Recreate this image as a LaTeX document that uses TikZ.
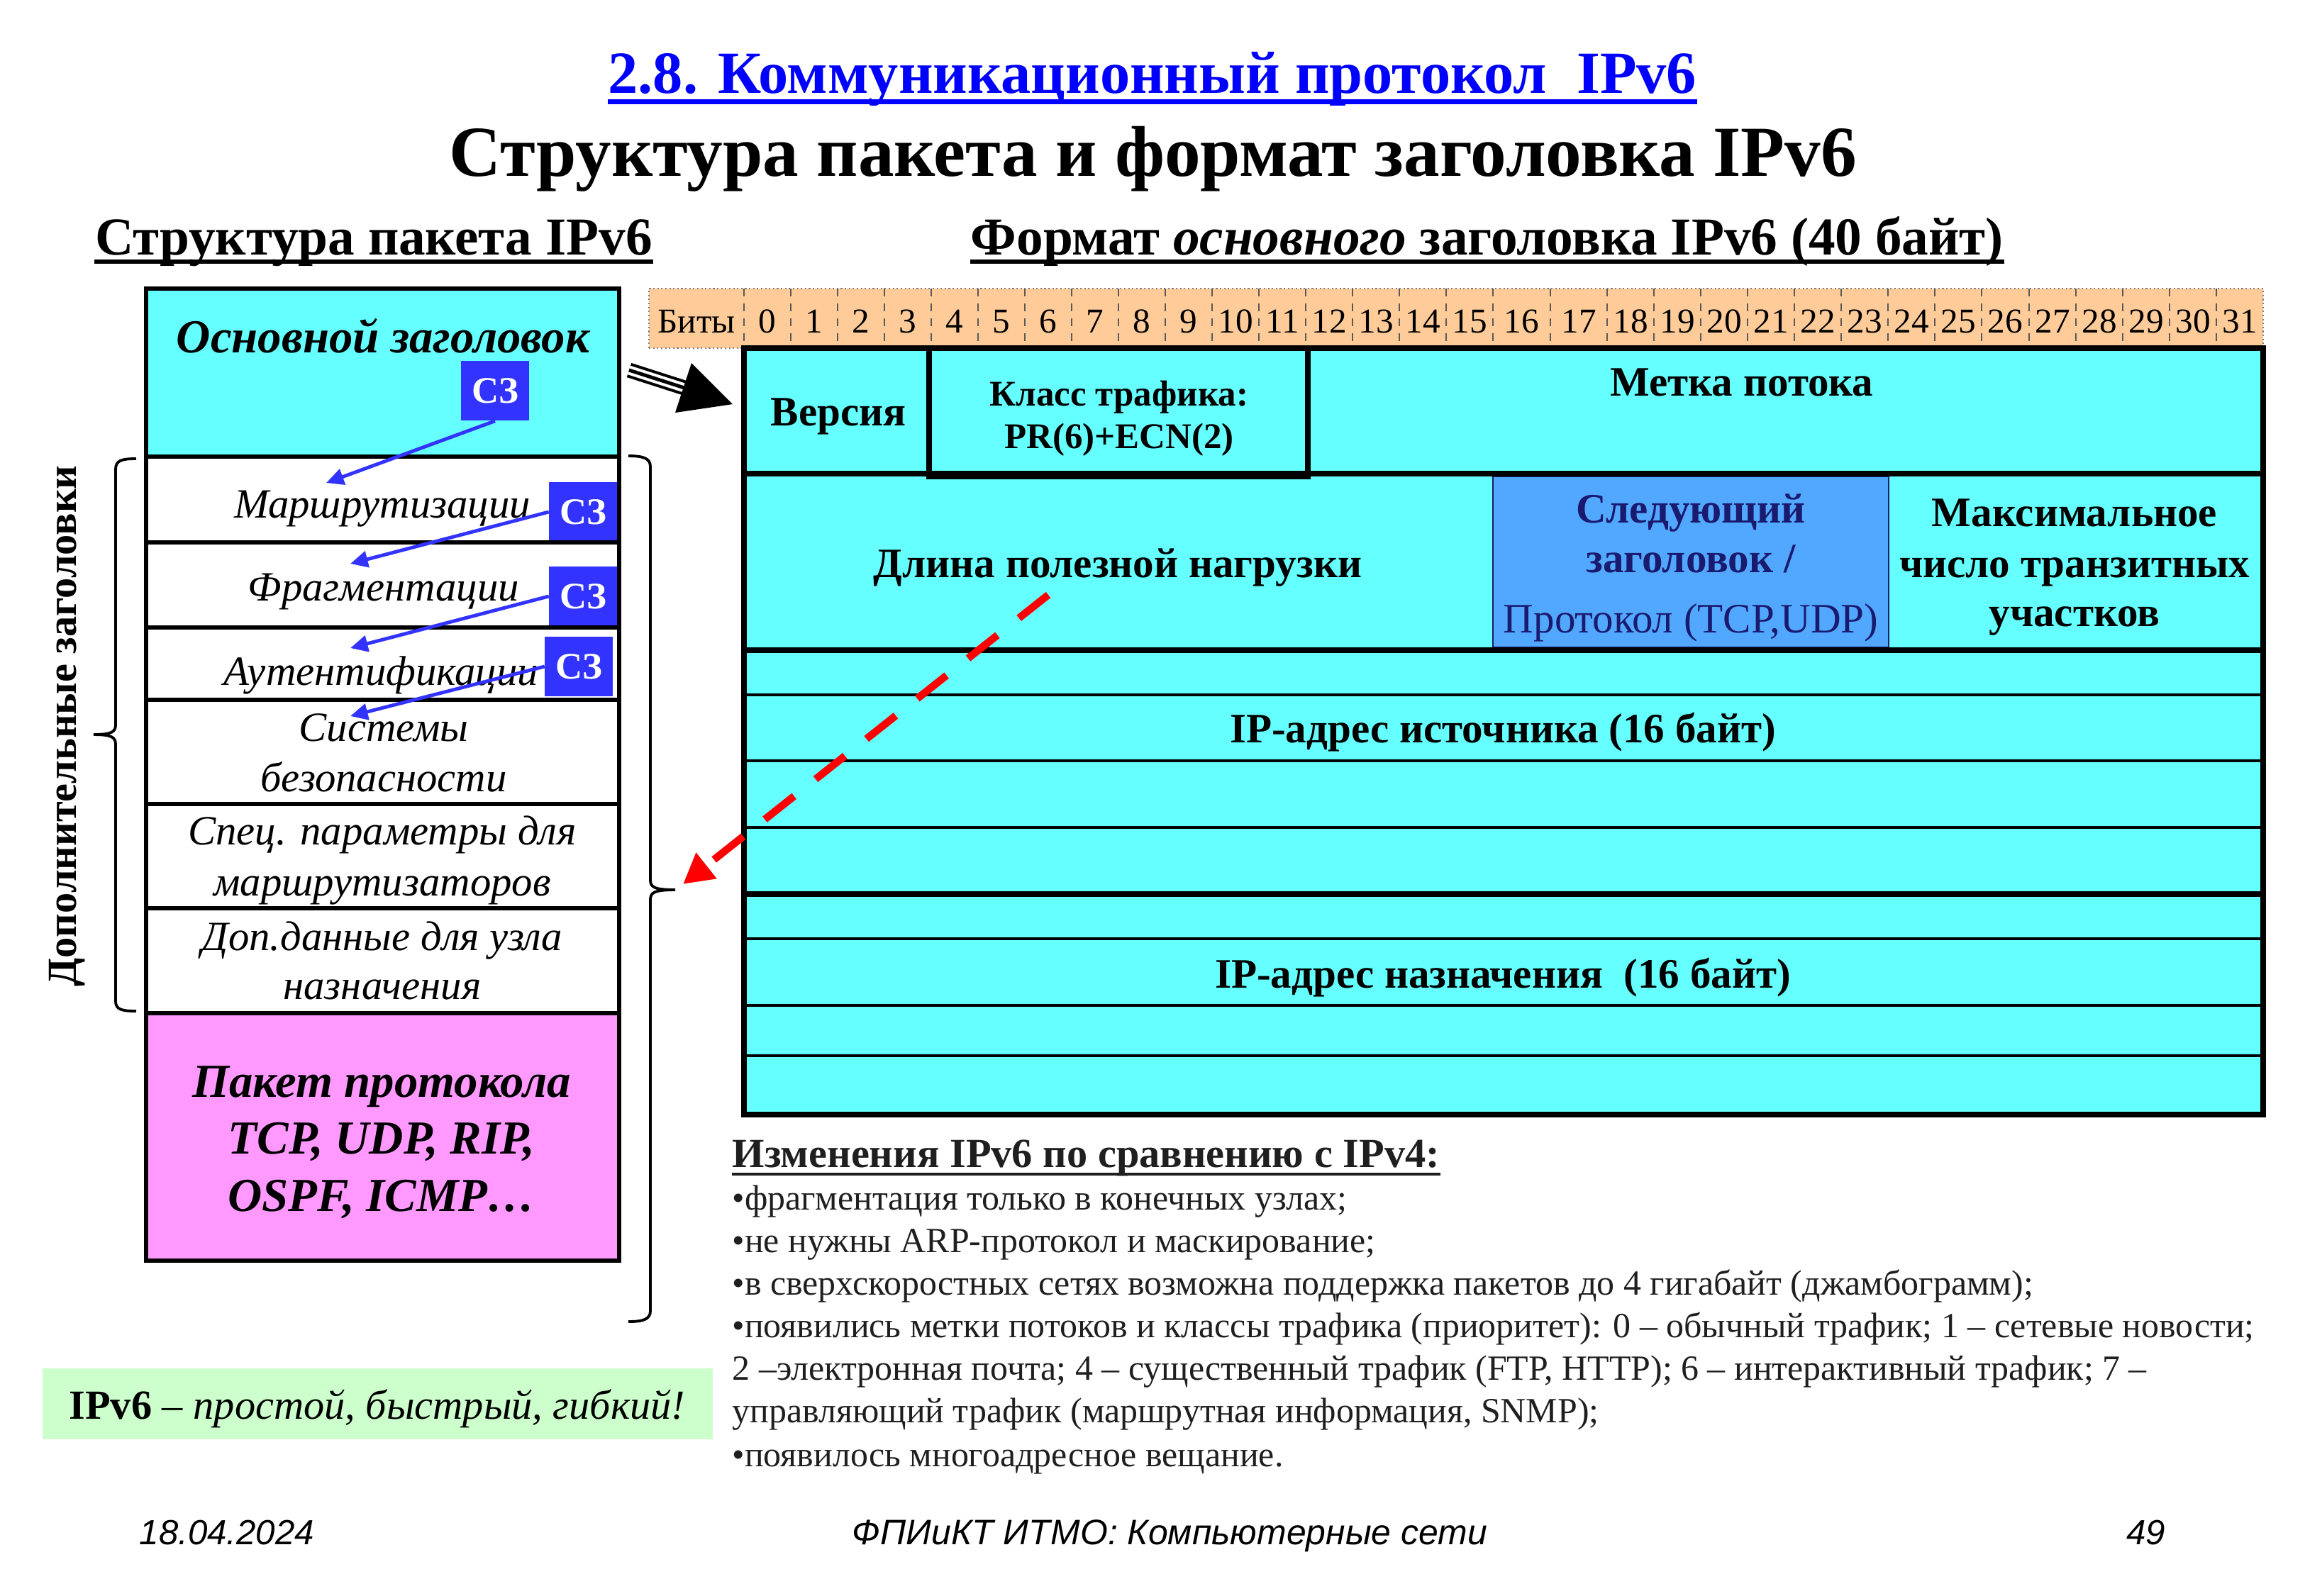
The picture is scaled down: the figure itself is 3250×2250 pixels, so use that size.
\documentclass[tikz,border=0pt]{standalone}
\usepackage{fontspec}
\setmainfont{Liberation Serif}
\setsansfont{Liberation Sans}
\usetikzlibrary{arrows.meta}
\definecolor{cyanfill}{HTML}{66FFFF}
\definecolor{pinkfill}{HTML}{FF99FF}
\definecolor{szblue}{HTML}{3333FF}
\definecolor{nhfill}{HTML}{52A8FF}
\definecolor{navy}{HTML}{1A1A6E}
\definecolor{bitfill}{HTML}{FFCC99}
\definecolor{greenfill}{HTML}{CCFFCC}
\definecolor{titleblue}{HTML}{0000FF}
\newcommand\fsz[1]{\fontsize{#1}{#1}\selectfont}

\begin{document}
\begin{tikzpicture}[x=0.01cm,y=-0.01cm,
  txt/.style={inner sep=0pt, anchor=base},
  wtxt/.style={inner sep=0pt, anchor=base west},
  itx/.style={txt, font=\itshape\fsz{16.7}},
  bitx/.style={txt, font=\bfseries\itshape\fsz{19}},
  hdr/.style={txt, font=\bfseries\fsz{16.8}},
  szbox/.style={fill=szblue, text=white, font=\bfseries\fsz{15},
    minimum width=0.95cm, minimum height=0.84cm, inner sep=0pt},
  bluearrow/.style={draw=szblue, line width=1.4pt, -{Triangle[length=7pt,width=6.5pt]}},
  frame/.style={line width=1.7pt},
  thickrule/.style={line width=2.3pt},
  thinrule/.style={line width=0.9pt},
  brace/.style={line width=1.1pt},
  note/.style={wtxt, font=\fsz{14.2}, text=black!88}]
\useasboundingbox (0,0) rectangle (3250,2250);
\fill[white] (0,0) rectangle (3250,2250);

% ---------- headings ----------
\node[txt, font=\bfseries\fsz{24}, text=titleblue] (t1) at (1625,131) {2.8. Коммуникационный протокол\ \ IPv6};
\draw[titleblue, line width=2pt] ([yshift=-1.2mm]t1.base west) -- ([yshift=-1.2mm]t1.base east);
\node[txt, font=\bfseries\fsz{28.8}] (t2) at (1626,248) {Структура пакета и формат заголовка IPv6};
\node[txt, font=\bfseries\fsz{21.4}] (st1) at (527,359) {Структура пакета IPv6};
\draw[line width=1.7pt] ([yshift=-1mm]st1.base west) -- ([yshift=-1mm]st1.base east);
\node[txt, font=\bfseries\fsz{21.4}] (st2) at (2097,359) {Формат \textit{основного} заголовка IPv6 (40 байт)};
\draw[line width=1.7pt] ([yshift=-1mm]st2.base west) -- ([yshift=-1mm]st2.base east);

% ---------- packet structure (left) ----------
\fill[cyanfill] (206,407) rectangle (873,644);
\fill[pinkfill] (206,1429) rectangle (873,1778);

\node[bitx] (mainhdr) at (540,497) {Основной заголовок};
\node[itx] (route) at (539,730) {Маршрутизации};
\node[itx] (frag) at (541,847) {Фрагментации};
\node[itx] (auth) at (537,966) {Аутентификации};
\node[itx] (sec1) at (541,1045) {Системы};
\node[itx] (sec2) at (541,1116) {безопасности};
\node[itx] (spec1) at (539,1191) {Спец. параметры для};
\node[itx] (spec2) at (539,1263) {маршрутизаторов};
\node[itx] (dst1) at (539,1340) {Доп.данные для узла};
\node[itx] (dst2) at (539,1409) {назначения};
\node[bitx] (pay1) at (538,1547) {Пакет протокола};
\node[bitx] (pay2) at (538,1627) {TCP, UDP, RIP,};
\node[bitx] (pay3) at (538,1708) {OSPF, ICMP…};

\node[szbox] (sz1) at (698,551) {СЗ};
\node[szbox] (sz2) at (822,722) {СЗ};
\node[szbox] (sz3) at (822,841) {СЗ};
\node[szbox] (sz4) at (816,940) {СЗ};

\draw[frame] (206,407) rectangle (873,1778);
\foreach \y in {644,765,885,987,1134,1281,1429}
  \draw[frame] (206,\y) -- (873,\y);

\coordinate (a1) at (460,681);
\coordinate (a2) at (494,795);
\coordinate (a3) at (494,914);
\coordinate (a4) at (494,1010);
\draw[bluearrow] (sz1.south) -- (a1);
\draw[bluearrow] (sz2.west) -- (a2);
\draw[bluearrow] (sz3.west) -- (a3);
\draw[bluearrow] (sz4.west) -- (a4);

% left brace with its caption
\draw[brace] (192,647) .. controls (172,647) and (163,649) .. (163,662)
  -- (163,1022) .. controls (163,1032) and (158,1036) .. (132,1036)
  .. controls (158,1036) and (163,1040) .. (163,1050)
  -- (163,1412) .. controls (163,1424) and (172,1426) .. (192,1426);
\node[rotate=90, inner sep=0pt, font=\bfseries\fsz{16.6}] (addl) at (95,1024) {Дополнительные заголовки};

% right brace
\draw[brace] (886,643) .. controls (906,643) and (917,646) .. (917,658)
  -- (917,1241) .. controls (917,1251) and (922,1255) .. (952,1255)
  .. controls (922,1255) and (917,1259) .. (917,1269)
  -- (917,1849) .. controls (917,1861) and (906,1864) .. (886,1864);

% ---------- bit ruler ----------
\fill[bitfill] (915,407) rectangle (3191,491);
\draw[gray, densely dotted, line width=0.6pt] (915,491) -- (915,407) -- (3191,407) -- (3191,491) (915,491) -- (1049,491);
\node[txt, font=\fsz{14}] (bits) at (982,469) {Биты};
\foreach \a/\b [count=\i from 0] in {1049/1115,1115/1181,1181/1247,1247/1313,1313/1379,1379/1445,1445/1511,1511/1577,1577/1643,1643/1709,1709/1775,1775/1841,1841/1907,1907/1973,1973/2039,2039/2105,2105/2186,2186/2266,2266/2332,2332/2398,2398/2464,2464/2530,2530/2596,2596/2662,2662/2728,2728/2794,2794/2861,2861/2927,2927/2993,2993/3059,3059/3125,3125/3191}{
  \draw[black!65, dashed, line width=0.4pt] (\a,407) -- (\a,491);
  \node[txt, font=\fsz{14}] (bit\i) at ({(\a+\b)/2},469) {\i};
}

% ---------- IPv6 base header ----------
\fill[cyanfill] (1049,491) rectangle (3191,1572);
\filldraw[fill=nhfill, draw=navy, line width=0.7pt] (2105,672) rectangle (2663,913);
\foreach \y in {980,1073,1167,1324,1418,1489}
  \draw[thinrule] (1049,\y) -- (3191,\y);
\draw[thickrule] (1049,491) rectangle (3191,1572);
\foreach \y in {668,917,1261}
  \draw[thickrule] (1049,\y) -- (3191,\y);
\draw[thickrule] (1310,491) rectangle (1844,672);

\node[hdr] (ver) at (1182,600) {Версия};
\node[txt, font=\bfseries\fsz{14.5}] (tc1) at (1578,572) {Класс трафика:};
\node[txt, font=\bfseries\fsz{14.5}] (tc2) at (1578,632) {PR(6)+ECN(2)};
\node[hdr] (flow) at (2456,558) {Метка потока};
\node[hdr] (plen) at (1576,814) {Длина полезной нагрузки};
\node[hdr, text=navy] (nh1) at (2384,737) {Следующий};
\node[hdr, text=navy] (nh2) at (2384,807) {заголовок /};
\node[txt, font=\fsz{16.8}, text=navy] (nh3) at (2384,892) {Протокол (TCP,UDP)};
\node[hdr] (hop1) at (2925,742) {Максимальное};
\node[hdr] (hop2) at (2925,814) {число транзитных};
\node[hdr] (hop3) at (2925,883) {участков};
\node[hdr] (src) at (2119,1047) {IP-адрес источника (16 байт)};
\node[hdr] (dst) at (2119,1393) {IP-адрес назначения\ \ (16 байт)};

% header expands into the base header format
\coordinate (ba) at (887,522);
\coordinate (bb) at (968,548);
\coordinate (btip) at (1033,570);
\draw[line width=6pt] (ba) -- (bb);
\draw[white, line width=3.7pt] (ba) -- (bb);
\draw[line width=1.4pt] (ba) -- (bb);
\fill (btip) -- (975,512) -- (952,582) -- cycle;

% payload length points to the extension headers
\coordinate (rs) at (1478,839);
\coordinate (re) at (963,1247);
\draw[red, line width=3pt, dash pattern=on 15pt off 11pt, -{Triangle[length=12pt,width=12.5pt]}] (rs) -- (re);

% ---------- notes ----------
\node[wtxt, font=\bfseries\fsz{16.6}, text=black!88] (chg) at (1032,1646) {Изменения IPv6 по сравнению с IPv4:};
\draw[line width=1.2pt, black!88] ([yshift=-1mm]chg.base west) -- ([yshift=-1mm]chg.base east);
\node[note] (n1) at (1032,1706) {•фрагментация только в конечных узлах;};
\node[note] (n2) at (1032,1766) {•не нужны ARP-протокол и маскирование;};
\node[note] (n3) at (1032,1826) {•в сверхскоростных сетях возможна поддержка пакетов до 4 гигабайт (джамбограмм);};
\node[note] (n4) at (1032,1886) {•появились метки потоков и классы трафика (приоритет): 0 – обычный трафик; 1 – сетевые новости;};
\node[note] (n5) at (1032,1946) {2 –электронная почта; 4 – существенный трафик (FTP, HTTP); 6 – интерактивный трафик; 7 –};
\node[note] (n6) at (1032,2006) {управляющий трафик (маршрутная информация, SNMP);};
\node[note] (n7) at (1032,2068) {•появилось многоадресное вещание.};

\fill[greenfill] (60,1930) rectangle (1005,2030);
\node[txt, font=\fsz{16.6}] (motto) at (532,2001) {\textbf{IPv6} – \textit{простой, быстрый, гибкий!}};

% ---------- footer ----------
\node[wtxt, font=\sffamily\itshape\fsz{14}] (date) at (196,2178) {18.04.2024};
\node[wtxt, font=\sffamily\itshape\fsz{14.2}] (course) at (1201,2178) {ФПИиКТ ИТМО: Компьютерные сети};
\node[inner sep=0pt, anchor=base east, font=\sffamily\itshape\fsz{14}] (page) at (3054,2178) {49};
\end{tikzpicture}
\end{document}
